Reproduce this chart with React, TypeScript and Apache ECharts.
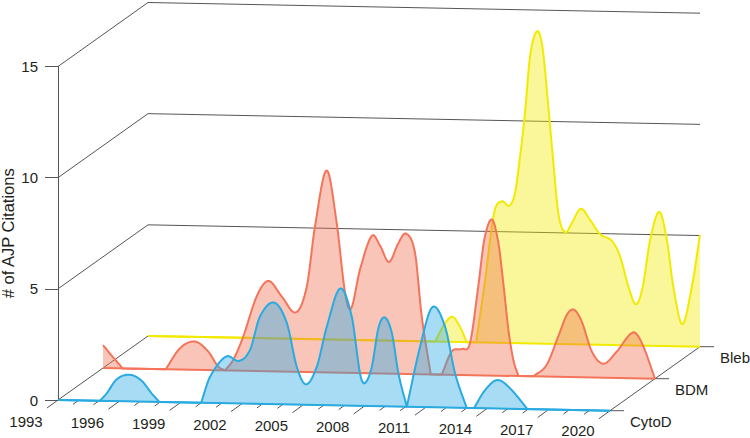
import React, { useEffect, useRef } from "react";
import * as echarts from "echarts";

const yearMin = 1993;
const yearMax = 2020;
const valueTicks = [5, 10, 15];
const tickLabelYears = [1993, 1996, 1999, 2002, 2005, 2008, 2011, 2014, 2017, 2020];
const categories = ["CytoD", "BDM", "Bleb"];
const depths = [0, 0.5, 1];

const cytoYears = [1993, 1995.05, 1995.38, 1995.87, 1996.49, 1997.09, 1997.58, 1997.96, 2000.0, 2000.44, 2001.22, 2001.87, 2002.39, 2002.88, 2003.57, 2004.19, 2004.68, 2005.13, 2005.66, 2006.15, 2006.8, 2007.37, 2007.77, 2008.0, 2008.35, 2008.67, 2008.98, 2009.33, 2009.65, 2010.06, 2010.71, 2011.31, 2011.93, 2012.42, 2012.99, 2013.35, 2013.89, 2014.49, 2015.11, 2015.96, 2020];
const cytoValues = [0, 0, 0.34, 0.98, 1.2, 0.94, 0.38, 0, 0, 1.18, 2.1, 1.92, 2.42, 3.93, 4.57, 3.67, 1.7, 0.92, 1.73, 3.54, 5.26, 4.0, 1.47, 1.02, 1.77, 3.51, 4.0, 3.3, 1.5, 0, 2.71, 4.5, 3.64, 1.55, 0, 0, 0.82, 1.28, 0.92, 0, 0];

const bdmYears = [1993, 1993.43, 1993.96, 1996.07, 1996.77, 1997.5, 1998.15, 1998.63, 1998.97, 1999.37, 1999.86, 2000.52, 2001.09, 2001.74, 2002.44, 2002.97, 2003.37, 2003.94, 2004.43, 2004.84, 2005.13, 2005.57, 2006.15, 2006.55, 2006.99, 2007.45, 2007.82, 2008.26, 2008.59, 2009.03, 2009.57, 2010.06, 2010.55, 2010.95, 2011.36, 2011.65, 2012.02, 2012.34, 2012.6, 2012.83, 2013.07, 2013.32, 2014.05, 2014.7, 2015.27, 2015.69, 2016.04, 2016.42, 2016.91, 2017.48, 2018.13, 2018.92, 2019.36, 2020];
const bdmValues = [1.03, 0.56, 0, 0, 0.96, 1.27, 0.83, 0.17, 0, 0.48, 1.54, 3.36, 4.06, 3.38, 2.67, 3.85, 6.56, 9.08, 6.73, 3.59, 2.88, 4.65, 6.18, 5.75, 5.02, 5.88, 6.31, 5.46, 2.6, 0, 0, 1.05, 1.17, 1.44, 4.03, 6.1, 7.02, 5.97, 4.0, 2.07, 0.73, 0, 0, 0.53, 1.82, 2.8, 3.03, 2.5, 1.17, 0.63, 1.19, 2.06, 1.59, 0];

const blebYears = [1993, 2007.04, 2007.53, 2007.89, 2008.26, 2008.59, 2009.05, 2009.28, 2009.49, 2009.93, 2010.3, 2010.68, 2010.95, 2011.2, 2011.44, 2011.69, 2012.02, 2012.29, 2012.58, 2012.8, 2013.07, 2013.4, 2013.73, 2014.17, 2014.62, 2015.11, 2015.69, 2016.09, 2016.5, 2016.87, 2017.2, 2017.56, 2018.01, 2018.38, 2018.7, 2019.14, 2019.6, 2020];
const blebValues = [0, 0, 0.83, 1.13, 0.69, 0, 0, 1.46, 2.82, 5.83, 6.36, 6.18, 6.75, 8.4, 10.36, 12.92, 14.04, 13.37, 10.68, 8.43, 5.88, 5.03, 5.45, 6.1, 5.61, 4.98, 4.68, 3.99, 2.64, 1.85, 2.65, 4.75, 6.03, 4.77, 2.64, 1.0, 2.69, 5.03];

const ridgeYears = [cytoYears, bdmYears, blebYears];
const ridgeValues = [cytoValues, bdmValues, blebValues];
const ridgeLines = ["#29ABE2", "#F4745A", "#F2EA00"];
const ridgeFills = ["#25A7E3", "#F06E4D", "#F0EB00"];

const DEPTH_DX = 90;
const DEPTH_DY = 64;
const TILT = 10.7;
const AXIS_COLOR = "#555555";
const TEXT_COLOR = "#231F20";
const FONT = "'Liberation Sans', Arial, sans-serif";
const FONT_SIZE = 15;
const TITLE_SIZE = 16.5;

// Cubic curve through the points that were read off the picture, never below zero.
function curveThrough(years: number[], values: number[]) {
  const out: [number, number][] = [];
  const n = years.length;
  const tangent = (i: number) => {
    const a = Math.max(i - 1, 0);
    const b = Math.min(i + 1, n - 1);
    return (values[b] - values[a]) / (years[b] - years[a]);
  };
  for (let i = 0; i < n - 1; i++) {
    const h = years[i + 1] - years[i];
    const v0 = values[i];
    const v1 = values[i + 1];
    const secant = (v1 - v0) / h;
    const m0 = v0 === 0 ? secant : tangent(i);
    const m1 = v1 === 0 ? secant : tangent(i + 1);
    const steps = v0 === 0 && v1 === 0 ? 1 : Math.max(4, Math.ceil(h / 0.04));
    for (let s = 0; s < steps; s++) {
      const t = s / steps;
      const t2 = t * t;
      const t3 = t2 * t;
      const v =
        (2 * t3 - 3 * t2 + 1) * v0 +
        (t3 - 2 * t2 + t) * h * m0 +
        (-2 * t3 + 3 * t2) * v1 +
        (t3 - t2) * h * m1;
      out.push([years[i] + t * h, Math.max(0, v)]);
    }
  }
  out.push([years[n - 1], values[n - 1]]);
  return out;
}

function project(api: any, year: number, value: number, depth: number): [number, number] {
  const p = api.coord([year, value]);
  return [
    p[0] + depth * DEPTH_DX,
    p[1] + (TILT * (year - yearMin)) / (yearMax - yearMin) - depth * DEPTH_DY,
  ];
}

const axisLine = (a: [number, number], b: [number, number]) => ({
  type: "line",
  shape: { x1: a[0], y1: a[1], x2: b[0], y2: b[1] },
  style: { stroke: AXIS_COLOR, lineWidth: 1, fill: "none" },
  silent: true,
});

const label = (text: string, x: number, y: number, align: string) => ({
  type: "text",
  x,
  y,
  silent: true,
  style: {
    text,
    fill: TEXT_COLOR,
    fontSize: FONT_SIZE,
    fontFamily: FONT,
    textAlign: align,
    textVerticalAlign: "middle",
    verticalAlign: "middle",
  },
});

function renderWalls(_: any, api: any) {
  const children: any[] = [];
  valueTicks.forEach((v) => {
    const front = project(api, yearMin, v, 0);
    const backLeft = project(api, yearMin, v, 1);
    const backRight = project(api, yearMax, v, 1);
    children.push(axisLine(front, backLeft), axisLine(backLeft, backRight));
  });
  children.push(axisLine(project(api, yearMin, 0, 0), project(api, yearMin, 0, 1)));
  children.push(axisLine(project(api, yearMax, 0, 0), project(api, yearMax, 0, 1)));
  children.push(axisLine(project(api, yearMin, 0, 0), project(api, yearMax, 0, 0)));
  for (let y = yearMin; y <= yearMax; y++) {
    const p = project(api, y, 0, 0);
    const long = tickLabelYears.includes(y);
    const dx = long ? 11 : 5.5;
    const dy = long ? 8 : 4;
    children.push(axisLine(p, [p[0] - dx, p[1] + dy]));
  }
  tickLabelYears.forEach((y) => {
    const p = project(api, y, 0, 0);
    const drop = 21.5 - (1.5 * (y - yearMin)) / (yearMax - yearMin);
    children.push(label(String(y), p[0] - 32, p[1] + drop, "center"));
  });
  categories.forEach((c, i) => {
    const p = project(api, yearMax, 0, depths[i]);
    children.push(axisLine(p, [p[0] + 14, p[1]]));
    children.push(label(c, p[0] + 20, p[1] + 10.5, "left"));
  });
  return { type: "group", children };
}

function ridgeRenderer(i: number) {
  return (_: any, api: any) => {
    const d = depths[i];
    const curve = curveThrough(ridgeYears[i], ridgeValues[i]).map((c) => project(api, c[0], c[1], d));
    const start = project(api, yearMin, 0, d);
    const end = project(api, yearMax, 0, d);
    return {
      type: "group",
      children: [
        {
          type: "polygon",
          silent: true,
          shape: { points: [start, ...curve, end] },
          style: { fill: ridgeFills[i], opacity: 0.4, stroke: "none" },
        },
        {
          type: "line",
          silent: true,
          shape: { x1: start[0], y1: start[1], x2: end[0], y2: end[1] },
          style: { stroke: ridgeLines[i], lineWidth: 2, fill: "none" },
        },
        {
          type: "polyline",
          silent: true,
          shape: { points: curve },
          style: { stroke: ridgeLines[i], lineWidth: 2, fill: "none", lineJoin: "round" },
        },
      ],
    };
  };
}

export default function App() {
  const ref = useRef<HTMLDivElement>(null);
  useEffect(() => {
    document.body.style.margin = "0";
    const chart = echarts.init(ref.current!, undefined, { renderer: "svg" });
    chart.setOption({
      animation: false,
      backgroundColor: "#ffffff",
      grid: { left: 58, top: 66.5, width: 552, height: 333.5, containLabel: false, outerBoundsMode: "none" },
      xAxis: { type: "value", min: yearMin, max: yearMax, show: false },
      yAxis: {
        type: "value",
        min: 0,
        max: 15,
        interval: 5,
        name: "# of AJP Citations",
        nameLocation: "middle",
        nameGap: 42,
        nameMoveOverlap: false,
        nameTextStyle: { color: TEXT_COLOR, fontSize: TITLE_SIZE, fontFamily: FONT },
        axisLine: { show: true, lineStyle: { color: AXIS_COLOR, width: 1 } },
        axisTick: { show: true, length: 13, inside: false, lineStyle: { color: AXIS_COLOR, width: 1 } },
        axisLabel: { color: TEXT_COLOR, fontSize: FONT_SIZE, fontFamily: FONT, margin: 20 },
        splitLine: { show: false },
      },
      series: [
        { type: "custom", coordinateSystem: "cartesian2d", clip: false, silent: true, data: [[yearMin, 0]], renderItem: renderWalls, z: 1 },
        ...[2, 1, 0].map((i, k) => ({
          type: "custom",
          name: categories[i],
          coordinateSystem: "cartesian2d",
          clip: false,
          silent: true,
          data: [[yearMin, 0]],
          renderItem: ridgeRenderer(i),
          z: 2 + k,
        })),
      ],
    });
    return () => chart.dispose();
  }, []);
  return <div ref={ref} style={{ width: 750, height: 438 }} />;
}
